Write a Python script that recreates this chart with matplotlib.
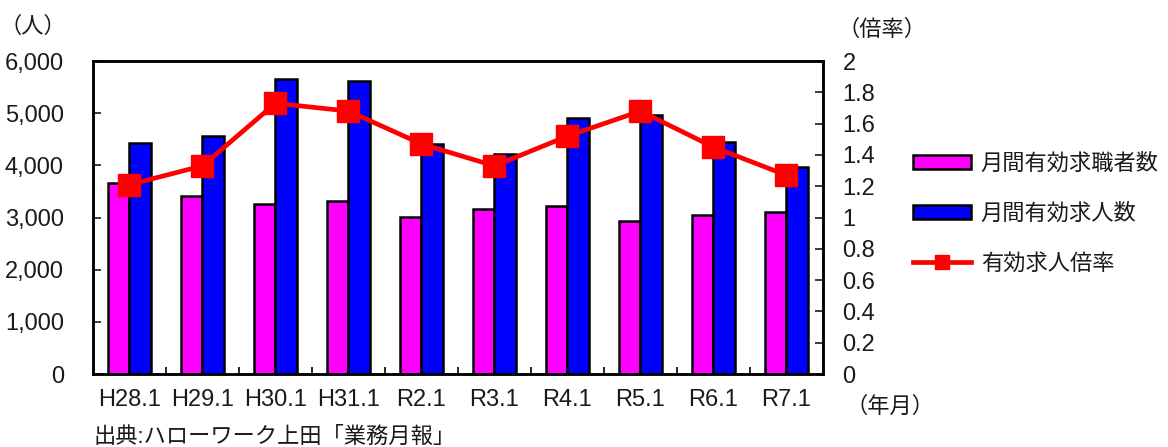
import matplotlib
matplotlib.use('Agg')
import matplotlib.pyplot as plt
import matplotlib.ticker as ticker
import numpy as np

plt.rcParams['font.family'] = ['Liberation Sans', 'Noto Sans CJK JP']
plt.rcParams['font.size'] = 16
plt.rcParams['text.color'] = '#1a1a1a'

# ----- data -----
periods = ['H28.1', 'H29.1', 'H30.1', 'H31.1', 'R2.1',
           'R3.1', 'R4.1', 'R5.1', 'R6.1', 'R7.1']
job_seekers = [3667, 3412, 3259, 3316, 3004, 3163, 3220, 2933, 3042, 3099]
job_openings = [4428, 4556, 5660, 5622, 4409, 4217, 4907, 4971, 4441, 3962]
opening_ratio = [1.21, 1.33, 1.73, 1.68, 1.47, 1.33, 1.52, 1.68, 1.45, 1.27]

SEEKER_COLOR = '#ff00ff'
OPENING_COLOR = '#0000ff'
RATIO_COLOR = '#ff0000'
TICK_SIZE = 17

fig = plt.figure(figsize=(11.68, 4.47), dpi=100)
ax = fig.add_axes([0.0796, 0.1633, 0.625, 0.7002])
ax2 = ax.twinx()

x = np.arange(len(periods))
w = 0.295
ax.bar(x - w / 2, job_seekers, w, color=SEEKER_COLOR, edgecolor='black',
       linewidth=1.8, label='月間有効求職者数')
ax.bar(x + w / 2, job_openings, w, color=OPENING_COLOR, edgecolor='black',
       linewidth=1.8, label='月間有効求人数')
ax2.plot(x, opening_ratio, color=RATIO_COLOR, linewidth=3.4, marker='s',
         markersize=16.5, label='有効求人倍率')

ax.set_xlim(-0.5, len(periods) - 0.5)
ax.set_ylim(0, 6000)
ax2.set_ylim(0, 2)

# category labels at centres, short inward ticks between groups
ax.set_xticks(x)
ax.set_xticklabels(periods)
ax.xaxis.set_minor_locator(ticker.FixedLocator(x[1:] - 0.5))
ax.tick_params(axis='x', which='major', length=0, pad=11, colors='#1a1a1a',
               labelsize=TICK_SIZE)
ax.tick_params(axis='x', which='minor', direction='in', length=5, width=1.2)

ax.yaxis.set_major_locator(ticker.MultipleLocator(1000))
ax.yaxis.set_major_formatter(ticker.FuncFormatter(lambda v, p: f'{int(v):,}'))
ax.tick_params(axis='y', direction='in', length=6, width=1.2, pad=21,
               colors='#1a1a1a', labelsize=TICK_SIZE)

ax2.yaxis.set_major_locator(ticker.MultipleLocator(0.2))
ax2.yaxis.set_major_formatter(ticker.FuncFormatter(lambda v, p: f'{v:g}'))
ax2.tick_params(axis='y', direction='in', length=6, width=1.2, pad=14,
                colors='#1a1a1a', labelsize=TICK_SIZE)

for a in (ax, ax2):
    for s in a.spines.values():
        s.set_linewidth(1.8)

fig.text(33 / 1168, 1 - 27 / 447, '（人）', ha='center', va='center')
fig.text(882 / 1168, 1 - 30 / 447, '（倍率）', ha='center', va='center')
fig.text(890 / 1168, 1 - 407 / 447, '（年月）', ha='center', va='center')
fig.text(93 / 1168, 1 - 437 / 447, '出典:ハローワーク上田「業務月報」',
         ha='left', va='center')

h1, l1 = ax.get_legend_handles_labels()
h2, l2 = ax2.get_legend_handles_labels()
fig.legend(h1 + h2, l1 + l2, loc='center left',
           bbox_to_anchor=(893 / 1168, 1 - 214 / 447), frameon=False,
           handlelength=2.6, handleheight=0.6, labelspacing=1.3,
           handletextpad=0.45, markerscale=0.65)

fig.savefig('out.png', dpi=100)
